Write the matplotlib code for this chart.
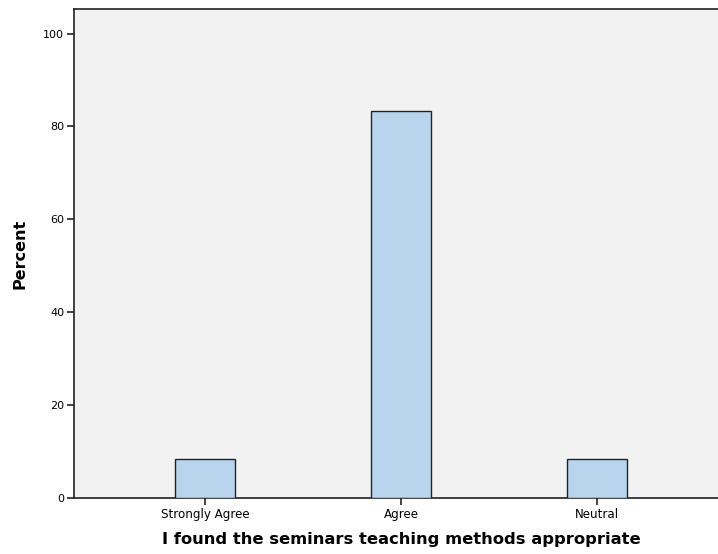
import numpy as np
import matplotlib.pyplot as plt

categories = ["Strongly Agree", "Agree", "Neutral"]
percent = [8.33, 83.33, 8.33]
yticks = [0, 20, 40, 60, 80, 100]

fig = plt.figure(figsize=(7.18, 5.54), dpi=100)
ax = fig.add_axes([74 / 718, 56 / 554, 644 / 718, 489 / 554])
ax.set_facecolor("#f2f2f2")

x = np.arange(len(categories))
ax.bar(x, percent, width=0.31, color="#b9d5ee", edgecolor="#222222", linewidth=1.0, zorder=3)

ax.set_xlim(-0.668, 2.617)
ax.set_ylim(0, 105.3)
ax.set_xticks(x)
ax.set_xticklabels(categories, fontsize=8.6)
ax.set_yticks(yticks)
ax.set_yticklabels([str(t) for t in yticks], fontsize=8)
ax.tick_params(axis="both", direction="out", length=5, width=1.2, color="#222222", pad=2)

for side in ["left", "bottom", "top"]:
    ax.spines[side].set_color("#222222")
    ax.spines[side].set_linewidth(1.2)
ax.spines["right"].set_visible(False)

ax.set_ylabel("Percent", fontsize=11.5, fontweight="bold")
ax.set_xlabel("I found the seminars teaching methods appropriate", fontsize=11.8,
              fontweight="bold")
ax.xaxis.set_label_coords(327 / 644, -34 / 489)
ax.yaxis.set_label_coords(-47 / 644, 0.5)

fig.savefig("out.png", dpi=100)
